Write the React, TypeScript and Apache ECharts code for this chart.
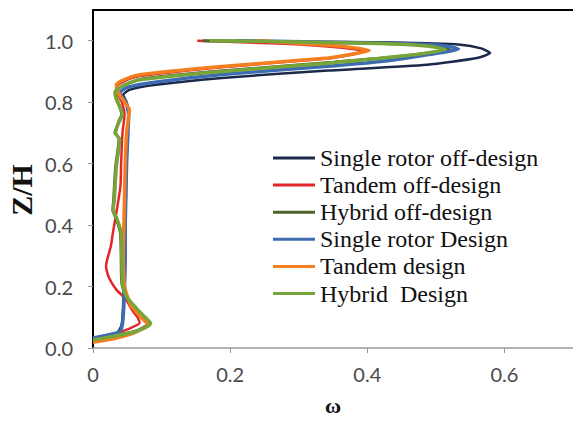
import React, { useEffect, useRef } from "react";
import * as echarts from "echarts";

const seriesNames = [
  "Single rotor off-design",
  "Tandem off-design",
  "Hybrid off-design",
  "Single rotor Design",
  "Tandem design",
  "Hybrid  Design",
];
const seriesColors = ["#1b2a4a", "#e2262b", "#4f6228", "#3d6cb3", "#f47e20", "#77a53a"];
const seriesWidths = [2.5, 2.5, 3, 3.5, 3.5, 3.5];

// Single rotor off-design
const singleOffZ = [0.033, 0.04, 0.05, 0.07, 0.1, 0.2, 0.3, 0.4, 0.5, 0.6, 0.7, 0.76, 0.8, 0.824, 0.841, 0.857, 0.879, 0.903, 0.922, 0.944, 0.96, 0.975, 0.987, 0.994, 0.997, 1.0];
const singleOffW = [0, 0.018, 0.035, 0.041, 0.043, 0.045, 0.046, 0.047, 0.048, 0.049, 0.05, 0.052, 0.049, 0.044, 0.054, 0.092, 0.188, 0.343, 0.487, 0.56, 0.579, 0.566, 0.536, 0.439, 0.3, 0.17];

// Tandem off-design
const tandemOffZ = [0.03, 0.045, 0.065, 0.082, 0.1, 0.12, 0.158, 0.19, 0.23, 0.266, 0.29, 0.331, 0.375, 0.44, 0.526, 0.6, 0.7, 0.76, 0.8, 0.83, 0.85, 0.868, 0.885, 0.914, 0.942, 0.952, 0.965, 0.978, 0.99, 1.0];
const tandemOffW = [0, 0.03, 0.055, 0.068, 0.065, 0.058, 0.048, 0.034, 0.023, 0.019, 0.021, 0.026, 0.029, 0.034, 0.04, 0.041, 0.043, 0.046, 0.042, 0.036, 0.034, 0.045, 0.068, 0.188, 0.343, 0.37, 0.398, 0.36, 0.28, 0.152];

// Hybrid off-design
const hybridOffZ = [0.028, 0.04, 0.052, 0.065, 0.08, 0.1, 0.13, 0.17, 0.21, 0.3, 0.375, 0.42, 0.45, 0.48, 0.59, 0.68, 0.7, 0.74, 0.76, 0.81, 0.83, 0.842, 0.857, 0.875, 0.902, 0.93, 0.952, 0.972, 0.983, 0.99, 0.996, 1.0];
const hybridOffW = [0, 0.03, 0.058, 0.072, 0.08, 0.074, 0.062, 0.048, 0.042, 0.041, 0.04, 0.034, 0.029, 0.03, 0.033, 0.038, 0.033, 0.038, 0.042, 0.035, 0.033, 0.036, 0.047, 0.07, 0.19, 0.35, 0.46, 0.52, 0.5, 0.44, 0.3, 0.16];

// Single rotor Design
const singleDesZ = [0.033, 0.04, 0.05, 0.06, 0.1, 0.2, 0.3, 0.4, 0.5, 0.6, 0.7, 0.757, 0.8, 0.83, 0.848, 0.865, 0.89, 0.917, 0.935, 0.954, 0.973, 0.983, 0.99, 0.995, 1.0];
const singleDesW = [0, 0.017, 0.036, 0.041, 0.044, 0.046, 0.047, 0.047, 0.048, 0.049, 0.051, 0.052, 0.048, 0.039, 0.05, 0.09, 0.188, 0.343, 0.43, 0.487, 0.533, 0.515, 0.46, 0.35, 0.21];

// Tandem design
const tandemDesZ = [0.019, 0.03, 0.045, 0.06, 0.076, 0.1, 0.14, 0.2, 0.3, 0.4, 0.5, 0.6, 0.7, 0.776, 0.8, 0.835, 0.857, 0.873, 0.889, 0.916, 0.944, 0.955, 0.968, 0.98, 0.99, 1.0];
const tandemDesW = [0, 0.03, 0.055, 0.07, 0.08, 0.07, 0.055, 0.046, 0.044, 0.045, 0.046, 0.047, 0.049, 0.053, 0.046, 0.036, 0.034, 0.045, 0.068, 0.188, 0.343, 0.375, 0.403, 0.37, 0.31, 0.24];

// Hybrid Design
const hybridDesZ = [0.026, 0.038, 0.052, 0.065, 0.08, 0.1, 0.13, 0.17, 0.21, 0.3, 0.375, 0.42, 0.45, 0.48, 0.59, 0.68, 0.7, 0.74, 0.76, 0.81, 0.83, 0.84, 0.855, 0.873, 0.9, 0.927, 0.95, 0.971, 0.982, 0.99, 0.996, 1.0];
const hybridDesW = [0, 0.03, 0.06, 0.075, 0.084, 0.076, 0.063, 0.048, 0.043, 0.042, 0.041, 0.035, 0.029, 0.031, 0.034, 0.039, 0.032, 0.039, 0.043, 0.034, 0.032, 0.034, 0.045, 0.068, 0.188, 0.343, 0.45, 0.514, 0.49, 0.43, 0.3, 0.17];

const xTicks = [0, 0.2, 0.4, 0.6];
const yTicks = [0, 0.2, 0.4, 0.6, 0.8, 1.0];

const allZ = [singleOffZ, tandemOffZ, hybridOffZ, singleDesZ, tandemDesZ, hybridDesZ];
const allW = [singleOffW, tandemOffW, hybridOffW, singleDesW, tandemDesW, hybridDesW];

export default function App() {
  const ref = useRef<HTMLDivElement>(null);
  useEffect(() => {
    const chart = echarts.init(ref.current!, null, { renderer: "svg" });
    const labelFont = { fontFamily: "Lato", fontSize: 20, color: "#4a4a4a" };
    chart.setOption({
      animation: false,
      backgroundColor: "#ffffff",
      grid: { left: 93, top: 10, width: 484, height: 338 },
      legend: {
        left: 273,
        top: 146,
        padding: 0,
        orient: "vertical",
        icon: "rect",
        itemWidth: 42,
        itemHeight: 3,
        itemGap: 3.1,
        data: seriesNames,
        textStyle: { fontFamily: "Liberation Serif", fontSize: 24, color: "#111", lineHeight: 22 },
      },
      graphic: [
        {
          type: "text",
          x: 21,
          y: 190,
          rotation: Math.PI / 2,
          style: {
            text: "Z/H",
            fontFamily: "Liberation Serif",
            fontSize: 30,
            fontWeight: "bold",
            fill: "#111",
            align: "center",
            verticalAlign: "middle",
          },
        },
      ],
      xAxis: [
        {
          type: "value",
          min: 0,
          max: 0.7,
          interval: 0.2,
          name: "ω",
          nameLocation: "middle",
          nameGap: 46,
          nameTextStyle: { fontFamily: "Liberation Serif", fontSize: 22, fontWeight: "bold", color: "#111" },
          axisLine: { show: true, lineStyle: { color: "#9a9a9a", width: 1.5 } },
          axisTick: { show: true, length: 5, customValues: xTicks, lineStyle: { color: "#9a9a9a" } },
          axisLabel: { margin: 16, customValues: xTicks, formatter: (v: number) => String(v), ...labelFont },
          splitLine: { show: false },
        },
        {
          type: "value",
          position: "top",
          min: 0,
          max: 0.7,
          axisLine: { show: true, lineStyle: { color: "#000", width: 2 } },
          axisTick: { show: false },
          axisLabel: { show: false },
          splitLine: { show: false },
        },
      ],
      yAxis: {
        type: "value",
        min: 0,
        max: 1.1,
        interval: 0.2,
        axisLine: { show: true, lineStyle: { color: "#000", width: 2 } },
        axisTick: { show: true, length: 5, customValues: yTicks, lineStyle: { color: "#9a9a9a" } },
        axisLabel: { margin: 20, customValues: yTicks, formatter: (v: number) => v.toFixed(1), ...labelFont },
        splitLine: { show: false },
      },
      series: seriesNames.map((name, k) => ({
        name,
        type: "line",
        xAxisIndex: 0,
        showSymbol: false,
        symbol: "none",
        smooth: 0.2,
        color: seriesColors[k],
        lineStyle: { color: seriesColors[k], width: seriesWidths[k] },
        data: allZ[k].map((z, i) => [allW[k][i], z]),
      })),
    });
    return () => chart.dispose();
  }, []);
  return <div ref={ref} style={{ position: "fixed", left: 0, top: 0, width: 573, height: 422 }} />;
}
